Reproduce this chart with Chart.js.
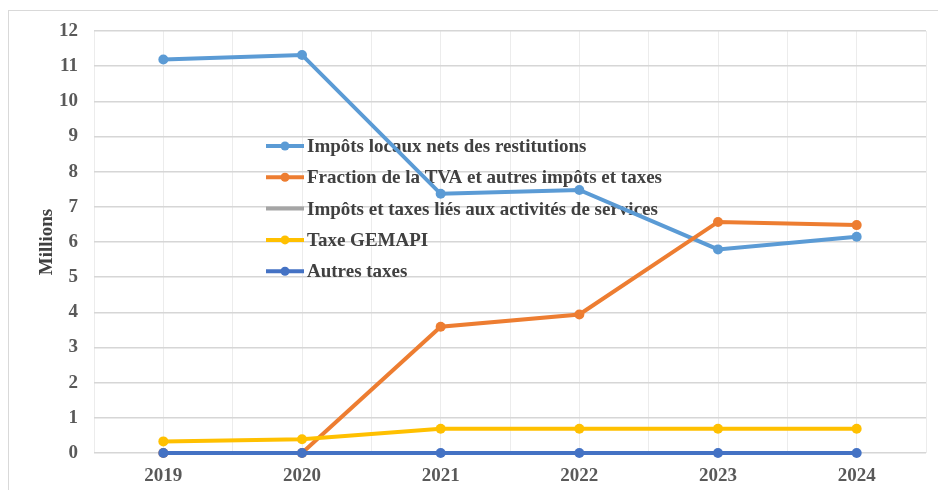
<!DOCTYPE html>
<html>
<head>
<meta charset="utf-8">
<script src="https://cdn.jsdelivr.net/npm/chart.js@4.4.1/dist/chart.umd.min.js"></script>
<style>
  html, body { margin: 0; padding: 0; background: #fff; }
  #wrap { width: 938px; height: 490px; position: relative; }
</style>
</head>
<body>
<div id="wrap"><canvas id="myChart" width="938" height="490"></canvas></div>
<script>
// years on the x axis
let years = [2019, 2020, 2021, 2022, 2023, 2024];

// series (millions)
let impotsLocaux = [11.19, 11.32, 7.37, 7.48, 5.79, 6.15];
let fractionTva = [0, 0, 3.59, 3.94, 6.57, 6.48];
let impotsServices = [0, 0, 0, 0, 0, 0];
let taxeGemapi = [0.33, 0.39, 0.69, 0.69, 0.69, 0.69];
let autresTaxes = [0, 0, 0, 0, 0, 0];

let seriesNames = [
    'Impôts locaux nets des restitutions',
    'Fraction de la TVA et autres impôts et taxes',
    'Impôts et taxes liés aux activités de services',
    'Taxe GEMAPI',
    'Autres taxes'
];
let seriesColors = ['#5b9bd5', '#ed7d31', '#a5a5a5', '#ffc000', '#4472c4'];
let seriesValues = [impotsLocaux, fractionTva, impotsServices, taxeGemapi, autresTaxes];

const FONT = '"Liberation Serif", "Times New Roman", serif';

let datasets = seriesValues.map((vals, i) => ({
    label: seriesNames[i],
    data: vals.map((v, j) => ({ x: years[j], y: v })),
    borderColor: seriesColors[i],
    backgroundColor: seriesColors[i],
    borderWidth: 4,
    pointRadius: i === 2 ? 0 : 5,
    pointHoverRadius: 5,
    pointBorderWidth: 0,
    tension: 0,
    clip: false,
    order: seriesNames.length - i   // later series on top
}));

// legend drawn inside the plot, under the lines
const innerLegend = {
    id: 'innerLegend',
    beforeDatasetsDraw(chart) {
        const ctx = chart.ctx;
        ctx.save();
        ctx.font = 'bold 19px ' + FONT;
        ctx.textBaseline = 'middle';
        seriesNames.forEach((name, i) => {
            const y = 146 + i * 31.3;
            ctx.strokeStyle = seriesColors[i];
            ctx.lineWidth = 4;
            ctx.beginPath();
            ctx.moveTo(266, y);
            ctx.lineTo(304, y);
            ctx.stroke();
            if (i !== 2) {
                ctx.fillStyle = seriesColors[i];
                ctx.beginPath();
                ctx.arc(285, y, 4.5, 0, Math.PI * 2);
                ctx.fill();
            }
            ctx.fillStyle = '#404040';
            ctx.fillText(name, 307, y + 1);
        });
        ctx.restore();
    }
};

// thin frame around the whole figure
const frame = {
    id: 'frame',
    beforeDraw(chart) {
        const ctx = chart.ctx;
        ctx.save();
        ctx.fillStyle = '#fff';
        ctx.fillRect(0, 0, chart.width, chart.height);
        ctx.strokeStyle = '#d9d9d9';
        ctx.lineWidth = 1;
        ctx.strokeRect(8.5, 10.5, chart.width + 10, chart.height + 10);
        ctx.restore();
    }
};

let taxChart = new Chart(document.getElementById('myChart').getContext('2d'), {
    type: 'line',
    data: { datasets: datasets },
    plugins: [frame, innerLegend],
    options: {
        responsive: false,
        animation: false,
        layout: { padding: { left: 0, right: 10, top: 31, bottom: 0 } },
        plugins: {
            legend: { display: false },
            tooltip: { enabled: false }
        },
        scales: {
            x: {
                type: 'linear',
                min: 2018.5,
                max: 2024.5,
                afterBuildTicks(scale) {
                    let t = [];
                    for (let v = 2018.5; v <= 2024.5; v += 0.5) t.push({ value: v });
                    scale.ticks = t;
                },
                afterFit(scale) { scale.height = 37; },
                ticks: {
                    autoSkip: false,
                    maxRotation: 0,
                    padding: 12,
                    color: '#595959',
                    font: { family: FONT, size: 19, weight: 'bold' },
                    callback: v => Number.isInteger(v) ? String(v) : ''
                },
                grid: { color: '#ececec', drawTicks: false },
                border: { display: false }
            },
            y: {
                min: 0,
                max: 12,
                ticks: {
                    stepSize: 1,
                    padding: 16,
                    color: '#595959',
                    font: { family: FONT, size: 19, weight: 'bold' }
                },
                afterFit(scale) { scale.width = 94; },
                grid: { color: '#d6d6d6', lineWidth: 1.5, drawTicks: false },
                border: { display: false },
                title: {
                    display: true,
                    text: 'Millions',
                    color: '#404040',
                    padding: { top: 36, bottom: 0 },
                    font: { family: FONT, size: 19, weight: 'bold' }
                }
            }
        }
    }
});
</script>
</body>
</html>
